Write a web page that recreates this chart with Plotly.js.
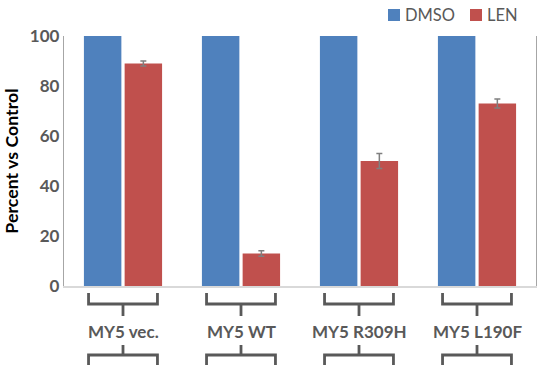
<!DOCTYPE html>
<html>
<head>
<meta charset="utf-8">
<script src="https://cdn.plot.ly/plotly-3.0.1.min.js"></script>
<style>html,body{margin:0;padding:0;background:#fff;}#chart{width:538px;height:365px;}</style>
</head>
<body>
<div id="chart"></div>
<script>
var categories = ['MY5 vec.', 'MY5 WT', 'MY5 R309H', 'MY5 L190F'];
var seriesNames = ['DMSO', 'LEN'];
var dmsoValues = [100, 100, 100, 100];
var lenValues = [89, 13, 50, 73];
var lenErrors = [1, 1.1, 3, 1.8];
var yTicks = [0, 20, 40, 60, 80, 100];

var fontFam = 'Lato, "Open Sans", sans-serif';
var grey = '#595959';
var colors = ['#4F81BD', '#C0504D'];

var traces = [
  {type: 'bar', name: seriesNames[0], x: categories, y: dmsoValues,
   marker: {color: colors[0]}},
  {type: 'bar', name: seriesNames[1], x: categories, y: lenValues,
   marker: {color: colors[1]},
   error_y: {type: 'data', array: lenErrors, visible: true, color: '#7F7F7F', thickness: 1.5, width: 3}}
];

// plot area geometry (pixels) used to place decorations in paper coords
var L = 64, T = 36, W = 472, H = 250;
function px(x) { return (x - L) / W; }
function py(y) { return (T + H - y) / H; }

var n = categories.length;
var shapes = [];
var annotations = [];
var half = 0.073;
var lineStyle = {color: grey, width: 2.8};
for (var i = 0; i < n; i++) {
  var cx = (i + 0.5) / n;
  // upper bracket
  shapes.push({type: 'path', xref: 'paper', yref: 'paper',
    path: 'M' + (cx - half) + ',' + py(293) + ' L' + (cx - half) + ',' + py(304) + ' L' + (cx + half) + ',' + py(304) + ' L' + (cx + half) + ',' + py(293),
    line: lineStyle});
  shapes.push({type: 'line', xref: 'paper', yref: 'paper', x0: cx, x1: cx, y0: py(304), y1: py(316), line: lineStyle});
  // lower bracket
  shapes.push({type: 'line', xref: 'paper', yref: 'paper', x0: cx, x1: cx, y0: py(345), y1: py(355), line: lineStyle});
  shapes.push({type: 'path', xref: 'paper', yref: 'paper',
    path: 'M' + (cx - half) + ',' + py(368) + ' L' + (cx - half) + ',' + py(355) + ' L' + (cx + half) + ',' + py(355) + ' L' + (cx + half) + ',' + py(368),
    line: lineStyle});
  annotations.push({xref: 'x', yref: 'paper', x: categories[i], y: py(331),
    text: '<b>' + categories[i] + '</b>', showarrow: false, yanchor: 'middle',
    font: {family: fontFam, size: 17, color: grey}});
}

// legend (drawn manually to match the compact spacing)
var legendX = [388, 470];
for (var k = 0; k < seriesNames.length; k++) {
  shapes.push({type: 'rect', xref: 'paper', yref: 'paper',
    x0: px(legendX[k]), x1: px(legendX[k] + 12), y0: py(21), y1: py(9),
    fillcolor: colors[k], line: {width: 0}});
  annotations.push({xref: 'paper', yref: 'paper', x: px(legendX[k] + 15), y: py(15),
    xanchor: 'left', yanchor: 'middle', showarrow: false, text: seriesNames[k],
    font: {family: fontFam, size: 16.5, color: grey}});
}

var layout = {
  width: 538, height: 365,
  margin: {l: L, r: 538 - L - W, t: T, b: 365 - T - H},
  paper_bgcolor: '#ffffff', plot_bgcolor: '#ffffff',
  barmode: 'group', bargap: 0.31, bargroupgap: 0.08,
  font: {family: fontFam, color: grey},
  showlegend: false,
  xaxis: {type: 'category', range: [-0.5, n - 0.5], showticklabels: false, ticks: '',
    showline: true, linecolor: '#D9D9D9', linewidth: 1.5, showgrid: false, zeroline: false, fixedrange: true},
  yaxis: {range: [0, 100], tickvals: yTicks, ticktext: yTicks.map(function(v){return '<b>' + v + '</b>';}),
    tickfont: {family: fontFam, size: 17, color: grey}, ticks: '', showgrid: false, zeroline: false,
    showline: true, mirror: true, linecolor: '#A6A6A6', linewidth: 1.2,
    title: {text: '<b>Percent vs Control</b>', font: {family: fontFam, size: 17.8, color: '#000000'}, standoff: 7}},
  shapes: shapes,
  annotations: annotations
};

Plotly.newPlot('chart', traces, layout, {displayModeBar: false, staticPlot: true});
</script>
</body>
</html>
